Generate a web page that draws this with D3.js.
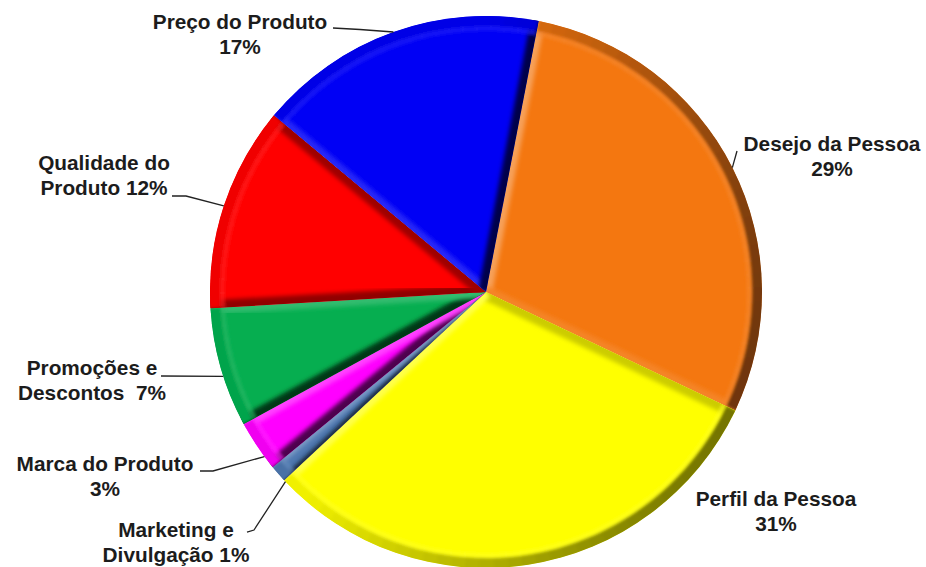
<!DOCTYPE html>
<html><head><meta charset="utf-8">
<script src="https://cdnjs.cloudflare.com/ajax/libs/d3/7.8.5/d3.min.js"></script>
<style>html,body{margin:0;background:#fff}svg{display:block}
text{font-family:"Liberation Sans",Arial,sans-serif;font-weight:700;font-size:20.8px;fill:#1c1c1c;text-anchor:middle}</style>
</head><body><div id="chart"></div>
<script>
// Fatores de decisão de compra
const categories = ["Desejo da Pessoa","Perfil da Pessoa","Marketing e Divulgação","Marca do Produto","Promoções e Descontos","Qualidade do Produto","Preço do Produto"];
const values = [29,31,1,3,7,12,17];
const colors = ["#f47710","#ffff00","#4f78b0","#ff00ff","#06ae50","#ff0000","#0000f5"];
const labelLines = [["Desejo da Pessoa","29%"],["Perfil da Pessoa","31%"],["Marketing e","Divulgação 1%"],["Marca do Produto","3%"],["Promoções e","Descontos  7%"],["Qualidade do","Produto 12%"],["Preço do Produto","17%"]];

// Label placement: text centre, first baseline, leader elbows
const layout = [
  {x:832,y:151,leader:[[737,151]]},
  {x:776,y:506,leader:null},
  {x:176,y:537,leader:[[247,532],[254,530]],aim:-2.2},
  {x:105,y:471,leader:[[200,471],[213,471]],aim:-2.6},
  {x:92, y:375,leader:[[161,376]],aim:-1.8},
  {x:104,y:170,leader:[[172,196],[186,196]]},
  {x:240,y:29, leader:[[333,28],[360,29.5]]}
];
const W=926,H=567,cx=486,cy=292,R=276,startDeg=11,lineGap=25;
const rad=d=>d*Math.PI/180;
const svg=d3.select("#chart").append("svg").attr("width",W).attr("height",H);
const defs=svg.append("defs");
const blur=(id,s)=>defs.append("filter").attr("id",id).attr("x","-20%").attr("y","-20%").attr("width","140%").attr("height","140%")
  .append("feGaussianBlur").attr("stdDeviation",s);
blur("edge",2); blur("rimBlur",1.6);

const pie=d3.pie().sort(null).startAngle(rad(startDeg)).endAngle(rad(startDeg+360));
const arcs=pie(values);
const arc=d3.arc().innerRadius(0).outerRadius(R);
const root=svg.append("g").attr("transform",`translate(${cx},${cy})`);

// Light comes from the upper left; shade is the facing of a surface towards it
const light=[-0.8,-0.3];
const facing=(nx,ny)=>nx*light[0]+ny*light[1];
const shadeColor=(c,f)=>f>=0?d3.interpolateRgb(c,"#fff")(Math.min(f,1)*0.3):d3.interpolateRgb(c,"#000")(Math.min(-f,1)*0.7);
const polar=(a,r)=>[r*Math.sin(a),-r*Math.cos(a)];

arcs.forEach((d,i)=>{
  const c=colors[i];
  defs.append("clipPath").attr("id","clip"+i).append("path").attr("d",arc(d));
  const g=root.append("g").attr("clip-path",`url(#clip${i})`);
  g.append("path").attr("d",arc(d)).attr("fill",c);
  const thin=(d.endAngle-d.startAngle)<rad(5);

  // Straight edges of the bevel, along both radii
  [[d.startAngle,1],[d.endAngle,-1]].forEach(([a,side])=>{
    const nx=-side*Math.cos(a), ny=-side*Math.sin(a);
    const f=facing(nx,ny);
    const band=thin?3:(f<0?8:6);
    const p=polar(a,R+10);
    g.append("line").attr("x1",0).attr("y1",0).attr("x2",p[0]).attr("y2",p[1])
      .attr("stroke",shadeColor(c,f<0?f*1.2-0.2:f*0.9+0.25)).attr("stroke-width",band*2).attr("filter","url(#edge)");
  });

  // Curved rim: darker band with a faint highlight just inside it
  const seg=d3.arc().innerRadius(R-10).outerRadius(R+6);
  const hi=d3.arc().innerRadius(R-15).outerRadius(R-10);
  const rim=g.append("g").attr("filter","url(#rimBlur)");
  d3.range(d.startAngle,d.endAngle,rad(3)).forEach(a=>{
    const e=Math.min(a+rad(3.4),d.endAngle), m=(a+e)/2;
    const f=facing(Math.sin(m),-Math.cos(m));
    rim.append("path").attr("d",hi({startAngle:a,endAngle:e}))
      .attr("fill",d3.interpolateRgb(c,"#fff")(0.12)).attr("opacity",0.6);
    rim.append("path").attr("d",seg({startAngle:a,endAngle:e}))
      .attr("fill",d3.interpolateRgb(c,"#000")(0.06+Math.max(0,0.3-f)*0.42));
  });
});

// Leader lines and labels
const leader=d3.line();
arcs.forEach((d,i)=>{
  const L=layout[i];
  if(L.leader){
    const mid=(d.startAngle+d.endAngle)/2+rad(L.aim||0);
    const p=polar(mid,R);
    const tip=[cx+p[0],cy+p[1]];
    svg.append("path").attr("d",leader([...L.leader,tip])).attr("fill","none").attr("stroke","#222").attr("stroke-width",1.3);
  }
  const t=svg.append("text").attr("x",L.x).attr("y",L.y);
  labelLines[i].forEach((s,k)=>t.append("tspan").attr("x",L.x).attr("y",L.y+k*lineGap).attr("xml:space","preserve").text(s));
});
</script></body></html>
